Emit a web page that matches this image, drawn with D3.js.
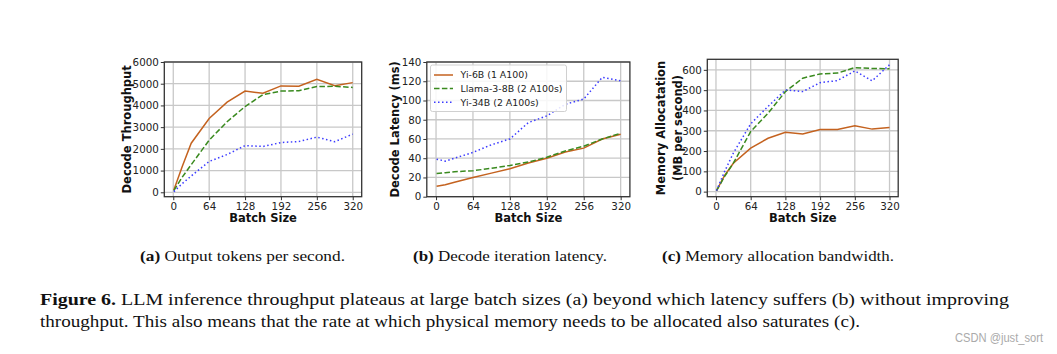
<!DOCTYPE html>
<html><head><meta charset="utf-8">
<script src="https://cdn.jsdelivr.net/npm/d3@7"></script>
<style>body{margin:0;background:#fff}svg{display:block}</style>
</head><body>
<svg id="chart" width="1057" height="354"></svg>
<script>
// ---- data ----
const batchSizes = [1, 16, 32, 64, 96, 128, 160, 192, 224, 256, 288, 320];
const xTicks = [0, 64, 128, 192, 256, 320];
const seriesNames = ["Yi-6B (1 A100)", "Llama-3-8B (2 A100s)", "Yi-34B (2 A100s)"];

const throughputYi6   = [100, 1190, 2260, 3400, 4150, 4660, 4560, 4900, 4880, 5200, 4910, 5050];
const throughputLlama = [80, 700, 1270, 2400, 3250, 3950, 4500, 4660, 4680, 4870, 4880, 4830];
const throughputYi34  = [30, 400, 750, 1420, 1740, 2150, 2110, 2290, 2340, 2540, 2330, 2680];

const latencyYi6   = [10.8, 12.5, 15, 20, 24.5, 29, 35, 40, 46.5, 50.5, 60, 65];
const latencyLlama = [24, 25, 26, 27, 29.5, 32.5, 36, 41, 47.5, 52.5, 60, 66];
const latencyYi34  = [39, 37, 40, 46, 54, 60, 77, 84, 96, 101.5, 124, 120.5];

const memYi6   = [5, 80, 140, 214, 263, 292, 284, 306, 306, 324, 308, 316];
const memLlama = [5, 75, 140, 296, 386, 493, 559, 580, 584, 611, 607, 605];
const memYi34  = [5, 100, 190, 334, 420, 501, 493, 537, 547, 595, 546, 625];

const throughputTicks = [0, 1000, 2000, 3000, 4000, 5000, 6000];
const latencyTicks = [0, 20, 40, 60, 80, 100, 120, 140];
const memTicks = [0, 100, 200, 300, 400, 500, 600];

const subCaptions = [["(a)", " Output tokens per second."], ["(b)", " Decode iteration latency."], ["(c)", " Memory allocation bandwidth."]];
const figLabel = "Figure 6.";
const figLine1 = " LLM inference throughput plateaus at large batch sizes (a) beyond which latency suffers (b) without improving";
const figLine2 = "throughput. This also means that the rate at which physical memory needs to be allocated also saturates (c).";
const watermark = "CSDN @just_sort";

// ---- styles ----
const colors = ["#c4621f", "#3a8a1f", "#3b3bff"];
const dashes = [null, "5.5,2.4", "1.5,2.5"];
const svg = d3.select("#chart");
const sans = "DejaVu Sans";

const panels = [
  {x0: 164.3, x1: 361.7, yTop: 62, yBot: 196.7, yDom: [-203, 6000], yTicks: throughputTicks,
   series: [throughputYi6, throughputLlama, throughputYi34], ylab: ["Decode Throughput"], ylabX: [126.7]},
  {x0: 426.8, x1: 629.9, yTop: 62, yBot: 196.7, yDom: [0, 140], yTicks: latencyTicks,
   series: [latencyYi6, latencyLlama, latencyYi34], ylab: ["Decode Latency (ms)"], ylabX: [395], legend: true},
  {x0: 707.3, x1: 898.2, yTop: 59.3, yBot: 196.7, yDom: [-25, 652], yTicks: memTicks,
   series: [memYi6, memLlama, memYi34], ylab: ["Memory Allocatation", "(MB per second)"], ylabX: [661, 678]}
];

panels.forEach(p => {
  const x = d3.scaleLinear().domain([-16, 336]).range([p.x0, p.x1]);
  const y = d3.scaleLinear().domain(p.yDom).range([p.yBot, p.yTop]);
  const g = svg.append("g");
  // grid
  g.append("g").selectAll("line").data(xTicks).join("line")
    .attr("x1", d => x(d)).attr("x2", d => x(d)).attr("y1", p.yTop).attr("y2", p.yBot)
    .attr("stroke", "#c8c8c8").attr("stroke-width", 1.3);
  g.append("g").selectAll("line").data(p.yTicks).join("line")
    .attr("y1", d => y(d)).attr("y2", d => y(d)).attr("x1", p.x0).attr("x2", p.x1)
    .attr("stroke", "#c8c8c8").attr("stroke-width", 1.3);
  // lines
  const line = d3.line().x((d, i) => x(batchSizes[i])).y(d => y(d));
  p.series.forEach((s, k) => {
    g.append("path").datum(s).attr("d", line).attr("fill", "none")
      .attr("stroke", colors[k]).attr("stroke-width", 1.5)
      .attr("stroke-dasharray", dashes[k]);
  });
  // axes
  const fmt = d3.format("d");
  const xAxis = d3.axisBottom(x).tickValues(xTicks).tickFormat(fmt).tickSize(3.5).tickPadding(2).tickSizeOuter(0);
  const gx = g.append("g").attr("transform", `translate(0,${p.yBot})`).call(xAxis);
  const yAxis = d3.axisLeft(y).tickValues(p.yTicks).tickFormat(fmt).tickSize(3.5).tickPadding(2).tickSizeOuter(0);
  const gy = g.append("g").attr("transform", `translate(${p.x0},0)`).call(yAxis);
  [gx, gy].forEach(a => {
    a.select(".domain").remove();
    a.selectAll("line").attr("stroke", "#333").attr("stroke-width", 1);
    a.selectAll("text").attr("font-family", sans).attr("font-size", 10.3).attr("fill", "#222");
  });
  // frame
  g.append("rect").attr("x", p.x0).attr("y", p.yTop).attr("width", p.x1 - p.x0).attr("height", p.yBot - p.yTop)
    .attr("fill", "none").attr("stroke", "#333").attr("stroke-width", 1.3);
  // labels
  g.append("text").attr("x", (p.x0 + p.x1) / 2).attr("y", 221.5).attr("text-anchor", "middle")
    .attr("font-family", sans).attr("font-weight", "bold").attr("font-size", 11.5).attr("fill", "#111")
    .text("Batch Size");
  p.ylab.forEach((t, i) => {
    g.append("text").attr("transform", `translate(${p.ylabX[i] + 4},${(p.yTop + p.yBot) / 2}) rotate(-90)`)
      .attr("text-anchor", "middle").attr("font-family", sans).attr("font-weight", "bold")
      .attr("font-size", 11.5).attr("fill", "#111").text(t);
  });
  if (p.legend) {
    const lg = g.append("g");
    lg.append("rect").attr("x", 430.5).attr("y", 65).attr("width", 136).attr("height", 46.5).attr("rx", 2)
      .attr("fill", "rgba(255,255,255,0.85)").attr("stroke", "#d0d0d0").attr("stroke-width", 1);
    seriesNames.forEach((n, k) => {
      const yy = 75 + k * 13.6;
      lg.append("line").attr("x1", 434).attr("x2", 453).attr("y1", yy).attr("y2", yy)
        .attr("stroke", colors[k]).attr("stroke-width", 1.5).attr("stroke-dasharray", dashes[k]);
      lg.append("text").attr("x", 460.5).attr("y", yy + 3.4).attr("font-family", sans)
        .attr("font-size", 9.4).attr("fill", "#222").text(n);
    });
  }
});

// captions
const serif = "Liberation Serif";
const capPos = [[140, 205], [413, 194], [662, 232]];
subCaptions.forEach((c, i) => {
  const t = svg.append("text").attr("x", capPos[i][0]).attr("y", 261).attr("font-family", serif)
    .attr("font-size", 15).attr("fill", "#111")
    .attr("textLength", capPos[i][1]).attr("lengthAdjust", "spacingAndGlyphs");
  t.append("tspan").attr("font-weight", "bold").text(c[0]);
  t.append("tspan").text(c[1]);
});
const f1 = svg.append("text").attr("x", 40).attr("y", 304.5).attr("font-family", serif).attr("font-size", 16.5)
  .attr("fill", "#111").attr("textLength", 969).attr("lengthAdjust", "spacingAndGlyphs");
f1.append("tspan").attr("font-weight", "bold").text(figLabel);
f1.append("tspan").text(figLine1);
svg.append("text").attr("x", 40).attr("y", 326.5).attr("font-family", serif).attr("font-size", 16.5)
  .attr("fill", "#111").attr("textLength", 820).attr("lengthAdjust", "spacingAndGlyphs").text(figLine2);
svg.append("text").attr("x", 955).attr("y", 341.5).attr("font-family", "Liberation Sans").attr("font-size", 12)
  .attr("fill", "#aaa").attr("textLength", 88).attr("lengthAdjust", "spacingAndGlyphs").text(watermark);
</script>
</body></html>
